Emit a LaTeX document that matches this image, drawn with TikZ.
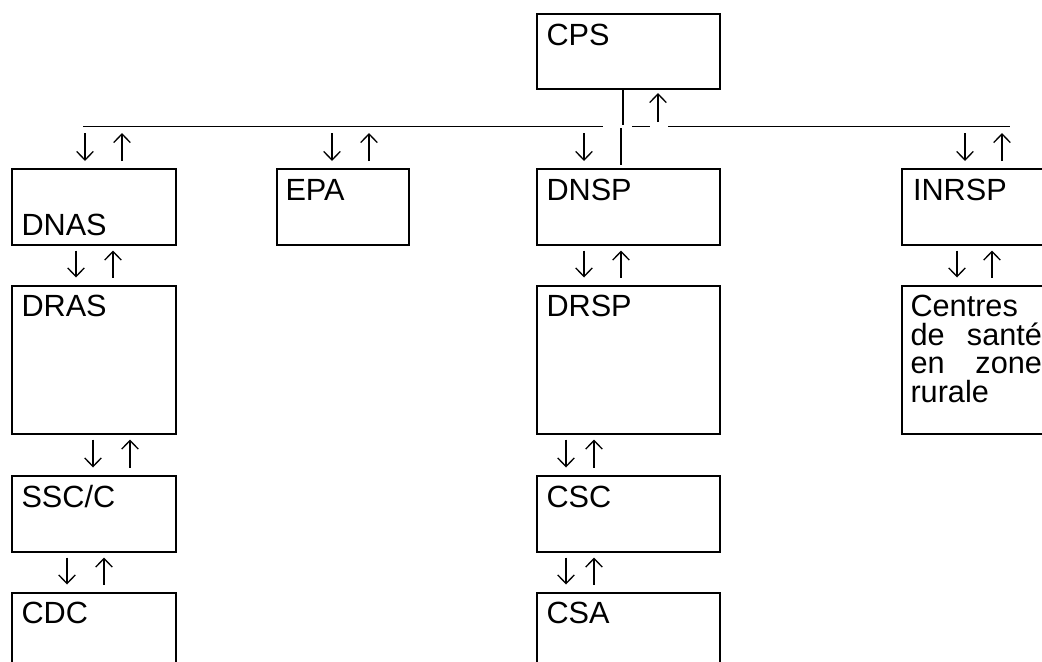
\documentclass[tikz,border=0pt]{standalone}
\usepackage{fontspec}
\setmainfont{Liberation Sans}
\usetikzlibrary{calc,fit,arrows.meta}
\newcommand\lblfont{\fontsize{23}{21.4}\selectfont}
\tikzset{
  box/.style={draw, line width=1.3pt, inner sep=0pt, outer sep=0pt},
  lbl/.style={anchor=base west, inner sep=0pt, outer sep=0pt, font=\lblfont},
  arr/.style={line width=1pt, -{Straight Barb[length=6.5pt, width=12.5pt]}},
  rulest/.style={line width=0.75pt},
  bar/.style={line width=1.1pt},
}
\newcommand\vpair[4]{%
  \draw[arr] ($(#1.south west)+(#3,5.5)$) -- ($(#2.north west)+(#3,-8.5)$);
  \draw[arr] ($(#2.north west)+(#4,-8.5)$) -- ($(#1.south west)+(#4,5.5)$);
}
\newcommand\linepair[3]{%
  \draw[arr] ($(#1.north west)+(#2,-36)$) -- ($(#1.north west)+(#2,-8)$);
  \draw[arr] ($(#1.north west)+(#3,-8)$) -- ($(#1.north west)+(#3,-36)$);
}
\begin{document}
\begin{tikzpicture}[x=0.75pt, y=-0.75pt]
\useasboundingbox (0,0) rectangle (1042,661);
\clip (0,0) rectangle (1042,661);

% boxes
\node[box, fit={(537,14) (720,89)}] (cps) {};
\node[box, fit={(12,169) (176,245)}] (dnas) {};
\node[box, fit={(277,169) (409,245)}] (epa) {};
\node[box, fit={(537,169) (720,245)}] (dnsp) {};
\node[box, fit={(902,169) (1070,245)}] (inrsp) {};
\node[box, fit={(12,286) (176,434)}] (dras) {};
\node[box, fit={(537,286) (720,434)}] (drsp) {};
\node[box, fit={(902,286) (1070,434)}] (csr) {};
\node[box, fit={(12,476) (176,552)}] (ssc) {};
\node[box, fit={(537,476) (720,552)}] (csc) {};
\node[box, fit={(12,593) (176,690)}] (cdc) {};
\node[box, fit={(537,593) (720,690)}] (csa) {};

% labels
\node[lbl] (cps-t) at ($(cps.north west)+(9.5,31)$) {CPS};
\node[lbl] (dnas-t) at ($(dnas.north west)+(9.5,66)$) {DNAS};
\node[lbl] (epa-t) at ($(epa.north west)+(8.5,31)$) {EPA};
\node[lbl] (dnsp-t) at ($(dnsp.north west)+(9.5,31)$) {DNSP};
\node[lbl] (inrsp-t) at ($(inrsp.north west)+(11,31)$) {INRSP};
\node[lbl] (dras-t) at ($(dras.north west)+(9.5,30)$) {DRAS};
\node[lbl] (drsp-t) at ($(drsp.north west)+(9.5,30)$) {DRSP};
\node[lbl, align=left] (csr-t) at ($(csr.north west)+(8.5,116.5)$)
  {\lblfont Centres\\[0pt]\makebox[98.6pt][s]{de santé}\\[0pt]\makebox[98.6pt][s]{en zone}\\[0pt]rurale};
\node[lbl] (ssc-t) at ($(ssc.north west)+(9.5,31)$) {SSC/C};
\node[lbl] (csc-t) at ($(csc.north west)+(9.5,31)$) {CSC};
\node[lbl] (cdc-t) at ($(cdc.north west)+(9.5,30)$) {CDC};
\node[lbl] (csa-t) at ($(csa.north west)+(9.5,30)$) {CSA};

% horizontal rule
\coordinate (hA) at (83,126);
\coordinate (hB) at (603,126);
\coordinate (hC) at (632,126);
\coordinate (hD) at (650,126);
\coordinate (hE) at (668,126);
\coordinate (hF) at (1010,126);
\draw[rulest] (hA) -- (hB) (hC) -- (hD) (hE) -- (hF);

% link CPS - rule
\draw[bar] ($(cps.south west)+(86,0)$) -- ($(cps.south west)+(86,36)$);
\draw[arr] ($(cps.south west)+(121,33)$) -- ($(cps.south west)+(121,4)$);
\draw[bar] ($(dnsp.north west)+(84,-41)$) -- ($(dnsp.north west)+(84,-4)$);

% rule to first row
\linepair{dnas}{73}{110}
\linepair{epa}{55}{92}
\draw[arr] ($(dnsp.north west)+(47,-36)$) -- ($(dnsp.north west)+(47,-8)$);
\linepair{inrsp}{63}{100}

% vertical pairs
\vpair{dnas}{dras}{64}{101}
\vpair{dnsp}{drsp}{47}{84}
\vpair{inrsp}{csr}{55}{90}
\vpair{dras}{ssc}{81}{118}
\vpair{drsp}{csc}{29}{57}
\vpair{ssc}{cdc}{55}{92}
\vpair{csc}{csa}{29}{57}
\end{tikzpicture}
\end{document}
